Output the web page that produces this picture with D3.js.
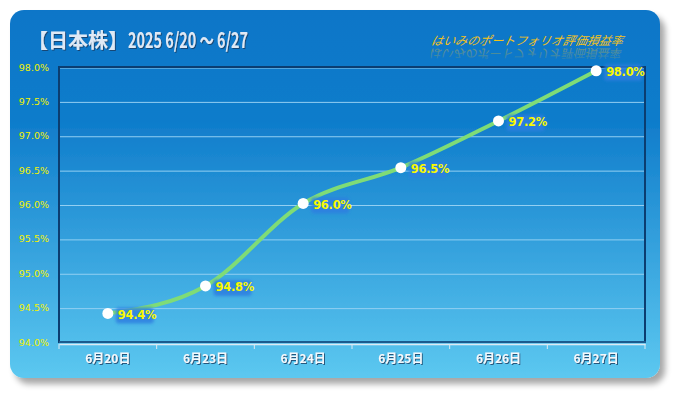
<!DOCTYPE html>
<html>
<head>
<meta charset="utf-8">
<script src="https://cdn.jsdelivr.net/npm/d3@7"></script>
<style>
  body { margin: 0; background: #fff; }
  svg { display: block; }
</style>
</head>
<body>
<div id="chart"></div>
<script>
// data
const days = ["6月20日", "6月23日", "6月24日", "6月25日", "6月26日", "6月27日"];
const values = [94.43, 94.83, 96.03, 96.55, 97.23, 97.96];
const valueLabels = ["94.4%", "94.8%", "96.0%", "96.5%", "97.2%", "98.0%"];
const yTicks = [94.0, 94.5, 95.0, 95.5, 96.0, 96.5, 97.0, 97.5, 98.0];

const W = 675, H = 393;
const plot = { left: 59, right: 645, top: 68, bottom: 343 };

const svg = d3.select("#chart").append("svg")
  .attr("width", W).attr("height", H);

const defs = svg.append("defs");

const bg = defs.append("linearGradient").attr("id", "bg")
  .attr("x1", 0).attr("y1", 0).attr("x2", 0).attr("y2", 1);
bg.append("stop").attr("offset", "0%").attr("stop-color", "#0b76c8");
bg.append("stop").attr("offset", "30%").attr("stop-color", "#0f7ccb");
bg.append("stop").attr("offset", "100%").attr("stop-color", "#5cc8f0");

const shadow = defs.append("filter").attr("id", "panelShadow")
  .attr("x", "-5%").attr("y", "-5%").attr("width", "115%").attr("height", "120%");
shadow.append("feGaussianBlur").attr("in", "SourceAlpha").attr("stdDeviation", 3);
shadow.append("feOffset").attr("dx", 5).attr("dy", 6).attr("result", "b");
shadow.append("feComponentTransfer").append("feFuncA").attr("type", "linear").attr("slope", 0.35);
const sm = shadow.append("feMerge");
sm.append("feMergeNode");
sm.append("feMergeNode").attr("in", "SourceGraphic");

const txtShadow = defs.append("filter").attr("id", "txtShadow");
txtShadow.append("feDropShadow").attr("dx", 1).attr("dy", 1).attr("stdDeviation", 0.6)
  .attr("flood-color", "#1a3a60").attr("flood-opacity", 0.8);

const glow = defs.append("filter").attr("id", "glow")
  .attr("x", "-20%").attr("y", "-40%").attr("width", "140%").attr("height", "180%");
glow.append("feGaussianBlur").attr("stdDeviation", 1.5);

// fade for the subtitle reflection
const fade = defs.append("linearGradient").attr("id", "fade")
  .attr("x1", 0).attr("y1", 0).attr("x2", 0).attr("y2", 1);
fade.append("stop").attr("offset", "0%").attr("stop-color", "#f4c21a").attr("stop-opacity", 0.05);
fade.append("stop").attr("offset", "100%").attr("stop-color", "#f4c21a").attr("stop-opacity", 0.45);

// panel
svg.append("rect")
  .attr("x", 10).attr("y", 10).attr("width", 650).attr("height", 368)
  .attr("rx", 14).attr("fill", "url(#bg)")
  .attr("filter", "url(#panelShadow)");

// title
const title = svg.append("text")
  .attr("x", 28).attr("y", 48)
  .attr("font-family", "'Noto Sans CJK JP', sans-serif")
  .attr("font-weight", "bold").attr("font-size", "20px")
  .attr("fill", "#dfe9f5").attr("filter", "url(#txtShadow)");
title.append("tspan").text("【日本株】");
title.append("tspan")
  .attr("font-size", "21px")
  .attr("textLength", 120).attr("lengthAdjust", "spacingAndGlyphs")
  .text("2025 6/20 ～ 6/27");

// subtitle with faint reflection
const sub = "はいみのポートフォリオ評価損益率";
svg.append("text")
  .attr("x", 431).attr("y", 45)
  .attr("font-family", "'Noto Sans CJK JP', sans-serif")
  .attr("font-style", "italic").attr("font-size", "12px")
  .attr("transform", "skewX(-12) translate(9,0)")
  .attr("fill", "#f4c21a")
  .text(sub);
svg.append("text")
  .attr("x", 431).attr("y", -49)
  .attr("font-family", "'Noto Sans CJK JP', sans-serif")
  .attr("font-size", "12px")
  .attr("transform", "scale(1,-1) skewX(12) translate(10,0)")
  .attr("fill", "url(#fade)")
  .text(sub);

const x = d3.scaleBand().domain(days).range([plot.left, plot.right]);
const y = d3.scaleLinear().domain([94, 98]).range([plot.bottom, plot.top]);

// gridlines
svg.append("g")
  .selectAll("line").data(yTicks.slice(1)).join("line")
  .attr("x1", plot.left).attr("x2", plot.right)
  .attr("y1", d => y(d)).attr("y2", d => y(d))
  .attr("stroke", "#93cff2").attr("stroke-width", 1);

// frame
svg.append("path")
  .attr("d", `M${plot.left},${plot.bottom} V${plot.top - 1} H${plot.right} V${plot.bottom}`)
  .attr("fill", "none").attr("stroke", "#0b3d70").attr("stroke-width", 2);
svg.append("line")
  .attr("x1", plot.left).attr("x2", plot.right + 1)
  .attr("y1", plot.bottom - 1).attr("y2", plot.bottom - 1)
  .attr("stroke", "#1a5a8e").attr("stroke-width", 2);

// y axis labels
svg.append("g")
  .selectAll("text").data(yTicks).join("text")
  .attr("x", 49).attr("y", d => y(d))
  .attr("text-anchor", "end").attr("dominant-baseline", "middle")
  .attr("font-family", "'DejaVu Sans', sans-serif").attr("font-size", "9.5px")
  .attr("fill", "#f2f200")
  .text(d => d.toFixed(1) + "%");

// x axis
const xAxis = svg.append("g")
  .attr("transform", `translate(0,${plot.bottom + 1})`)
  .call(d3.axisBottom(x).tickSize(0).tickPadding(10));
xAxis.select(".domain").attr("stroke", "#dde9f2").attr("stroke-width", 1.5);
xAxis.selectAll("text")
  .attr("font-family", "'Noto Sans CJK JP', sans-serif")
  .attr("font-weight", "bold").attr("font-size", "12px")
  .attr("fill", "#f4f8fc").attr("filter", "url(#txtShadow)");
svg.append("g").selectAll("line")
  .data(d3.range(days.length + 1)).join("line")
  .attr("x1", i => plot.left + i * x.step()).attr("x2", i => plot.left + i * x.step())
  .attr("y1", plot.bottom + 1).attr("y2", plot.bottom + 6)
  .attr("stroke", "#dde9f2").attr("stroke-width", 1);

// line
const pts = days.map((d, i) => ({ day: d, v: values[i], label: valueLabels[i] }));
const cx = d => x(d.day) + x.bandwidth() / 2;
const line = d3.line().x(cx).y(d => y(d.v)).curve(d3.curveMonotoneX);
svg.append("path").datum(pts)
  .attr("d", line)
  .attr("fill", "none").attr("stroke", "#7fdc76").attr("stroke-width", 4)
  .attr("stroke-linecap", "round");

// points
svg.append("g").selectAll("circle").data(pts).join("circle")
  .attr("cx", cx).attr("cy", d => y(d.v)).attr("r", 5.5)
  .attr("fill", "#ffffff");

// value labels
const lab = svg.append("g").selectAll("g").data(pts).join("g")
  .attr("transform", d => `translate(${cx(d) + 10},${y(d.v) + 2})`);
lab.append("rect")
  .attr("x", -2).attr("y", -8).attr("width", 38).attr("height", 16).attr("rx", 3)
  .attr("fill", "#2f7fe0").attr("opacity", 0.85).attr("filter", "url(#glow)");
lab.append("text")
  .attr("x", 0).attr("y", 0).attr("dominant-baseline", "middle")
  .attr("font-family", "'DejaVu Sans', sans-serif").attr("font-weight", "bold")
  .attr("font-size", "11.5px").attr("fill", "#f8f800")
  .attr("letter-spacing", "-0.3px")
  .text(d => d.label);
</script>
</body>
</html>
